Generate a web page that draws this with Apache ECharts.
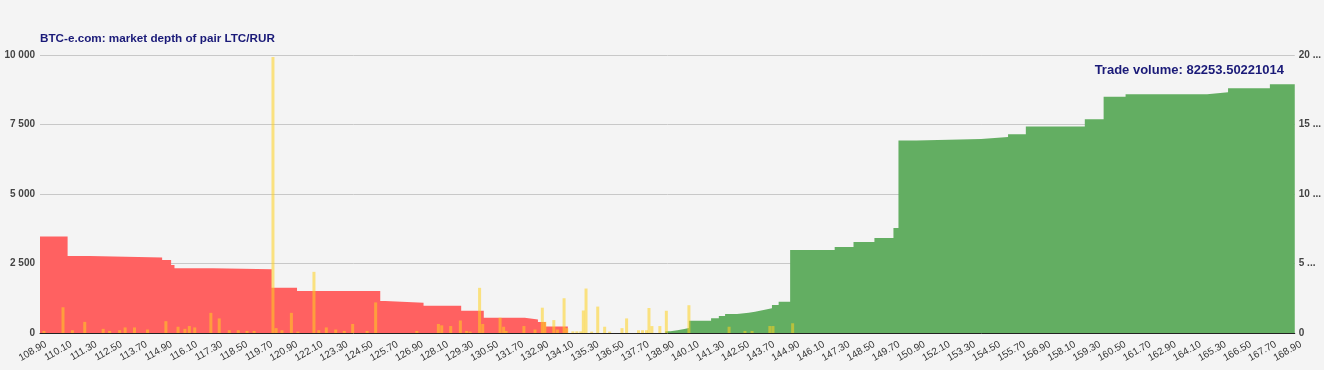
<!DOCTYPE html>
<html>
<head>
<meta charset="utf-8">
<script src="https://cdn.jsdelivr.net/npm/echarts@6/dist/echarts.min.js"></script>
<style>
html,body{margin:0;padding:0;background:#f4f4f4;}
#chart{width:1324px;height:370px;}
</style>
</head>
<body>
<div id="chart"></div>
<script>
// Bids (red): step start prices and cumulative depth
const bidPrices = [108.9, 110.22, 111.28, 114.74, 115.17, 115.33, 117.14, 119.98, 121.19, 125.17, 125.41, 127.24, 129.04, 130.12, 132.08, 132.71, 133.09, 134.14];
const bidDepth  = [3470, 2770, 2720, 2625, 2445, 2325, 2290, 1630, 1510, 1150, 1090, 980, 800, 550, 490, 395, 230, 230];

// Asks (green): step start prices and cumulative depth
const askPrices = [138.8, 139.04, 139.38, 139.71, 139.93, 140.99, 141.36, 141.66, 142.23, 142.79, 143.09, 143.5, 143.9, 144.22, 144.77, 146.9, 147.8, 148.8, 149.71, 149.95, 150.81, 153.9, 155.19, 156.04, 158.86, 159.76, 160.81, 164.71, 165.71, 167.71, 168.9];
const askDepth  = [60, 100, 140, 180, 440, 528, 610, 683, 730, 766, 827, 888, 1007, 1126, 2985, 3090, 3270, 3420, 3780, 6920, 6980, 7050, 7150, 7430, 7690, 8500, 8590, 8660, 8800, 8950, 8950];

// Individual orders (yellow bars, right axis)
const orderPrices = [109.09, 110.0, 110.45, 111.04, 111.92, 112.23, 112.71, 112.97, 113.42, 114.04, 114.92, 115.5, 115.83, 116.04, 116.3, 117.07, 117.47, 117.95, 118.38, 118.8, 119.14, 120.04, 120.19, 120.47, 120.92, 121.23, 122.0, 122.23, 122.59, 123.04, 123.45, 123.85, 124.54, 124.95, 126.92, 127.95, 128.11, 128.54, 129.0, 129.3, 129.47, 129.92, 130.07, 130.9, 131.07, 131.19, 132.04, 132.57, 132.92, 133.04, 133.47, 133.64, 133.96, 134.09, 134.38, 134.57, 134.76, 134.88, 135.01, 135.28, 135.57, 135.9, 136.14, 136.73, 136.95, 137.52, 137.71, 137.9, 138.02, 138.16, 138.54, 138.85, 139.93, 141.85, 142.61, 142.95, 143.8, 143.95, 144.89];
const orderVolumes = [0.15, 1.85, 0.2, 0.8, 0.3, 0.15, 0.2, 0.4, 0.4, 0.25, 0.85, 0.45, 0.3, 0.5, 0.4, 1.45, 1.05, 0.2, 0.2, 0.15, 0.15, 19.85, 0.35, 0.2, 1.45, 0.1, 4.4, 0.2, 0.4, 0.25, 0.15, 0.65, 0.15, 2.2, 0.15, 0.65, 0.55, 0.5, 0.9, 0.15, 0.1, 3.25, 0.65, 1.1, 0.45, 0.15, 0.5, 0.25, 1.82, 0.8, 0.93, 0.25, 2.5, 0.35, 0.12, 0.12, 0.12, 1.62, 3.2, 0.1, 1.9, 0.45, 0.1, 0.35, 1.05, 0.2, 0.2, 0.2, 1.8, 0.5, 0.5, 1.6, 2.0, 0.45, 0.15, 0.15, 0.5, 0.5, 0.7];

const titleText = 'BTC-e.com: market depth of pair LTC/RUR';
const volumeText = 'Trade volume: 82253.50221014';

const zip = (a, b) => a.map((v, i) => [v, b[i]]);
const sep = v => String(v).replace(/\B(?=(\d{3})+(?!\d))/g, ' ');
const FONT = 'Liberation Sans, Arial, sans-serif';

const chart = echarts.init(document.getElementById('chart'), null, {renderer: 'canvas'});
chart.setOption({
  backgroundColor: '#f4f4f4',
  animation: false,
  title: [
    {text: titleText, left: 35, top: 28, textStyle: {fontFamily: FONT, fontSize: 11.7, fontWeight: 'bold', color: '#1a1a78'}},
    {text: volumeText, right: 35, top: 59, textStyle: {fontFamily: FONT, fontSize: 13, fontWeight: 'bold', color: '#1a1a78'}}
  ],
  grid: {left: 40, right: 23, top: 55, bottom: 37, containLabel: false},
  xAxis: {
    type: 'value', min: 108.9, max: 168.9, interval: 1.2,
    axisLine: {show: true, lineStyle: {color: '#222', width: 1}},
    axisTick: {show: false},
    splitLine: {show: false},
    axisLabel: {
      rotate: 30, fontSize: 10, color: '#333', margin: 14,
      padding: [0, -7, 0, 0],
      fontFamily: FONT,
      formatter: v => v.toFixed(2)
    }
  },
  yAxis: [
    {
      type: 'value', min: 0, max: 10000, interval: 2500,
      axisLine: {show: false}, axisTick: {show: false},
      splitLine: {show: true, lineStyle: {color: '#c8c8c8', width: 1}},
      axisLabel: {fontSize: 10, color: '#444', fontWeight: 'bold', margin: 5,
        fontFamily: FONT, formatter: v => sep(v)}
    },
    {
      type: 'value', min: 0, max: 20, interval: 5, position: 'right',
      axisLine: {show: false}, axisTick: {show: false},
      splitLine: {show: false},
      axisLabel: {fontSize: 10, color: '#444', fontWeight: 'bold', margin: 4,
        fontFamily: FONT, formatter: v => v === 0 ? '0' : v + ' ...'}
    }
  ],
  series: [
    {
      type: 'line', step: 'end', data: zip(bidPrices, bidDepth), yAxisIndex: 0,
      symbol: 'none', lineStyle: {width: 0, color: '#ff6161'},
      areaStyle: {color: '#ff6161', opacity: 1}, z: 2
    },
    {
      type: 'line', step: 'end', data: zip(askPrices, askDepth), yAxisIndex: 0,
      symbol: 'none', lineStyle: {width: 0, color: '#63ae62'},
      areaStyle: {color: '#63ae62', opacity: 1}, z: 2
    },
    {
      type: 'bar', data: zip(orderPrices, orderVolumes), yAxisIndex: 1,
      barWidth: 3, itemStyle: {color: 'rgba(255,210,31,0.55)'}, z: 3
    }
  ]
});
</script>
</body>
</html>
